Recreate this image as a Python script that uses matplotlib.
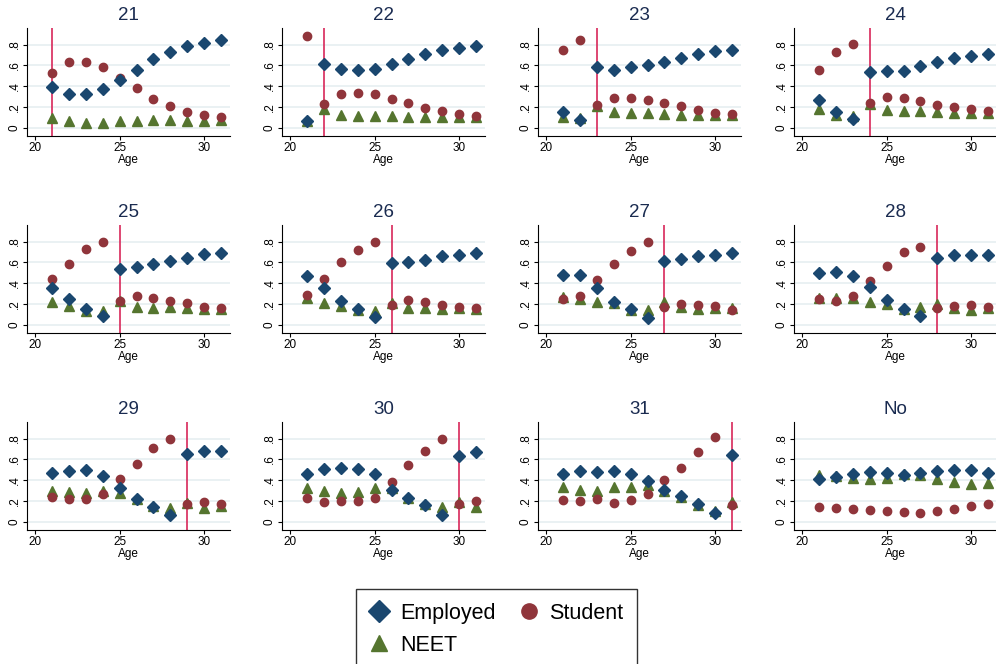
import numpy as np
import matplotlib
matplotlib.use('Agg')
import matplotlib.pyplot as plt
from matplotlib.lines import Line2D

plt.rcParams['font.family'] = ['Liberation Sans', 'DejaVu Sans']

ages = list(range(21, 32))
panels = ['21', '22', '23', '24', '25', '26', '27', '28', '29', '30', '31', 'No']
cutoffs = [21, 22, 23, 24, 25, 26, 27, 28, 29, 30, 31, None]

employed = [
    [.39, .32, .32, .37, .46, .56, .66, .73, .79, .82, .84],
    [.06, .61, .57, .56, .57, .61, .66, .71, .75, .77, .79],
    [.15, .07, .58, .56, .58, .60, .63, .67, .71, .74, .75],
    [.27, .15, .08, .54, .55, .55, .59, .63, .67, .69, .71],
    [.35, .25, .15, .08, .54, .56, .58, .61, .64, .68, .69],
    [.47, .35, .23, .15, .07, .59, .60, .62, .66, .67, .69],
    [.48, .48, .35, .22, .15, .06, .61, .63, .66, .67, .69],
    [.50, .51, .47, .36, .24, .15, .08, .64, .67, .67, .67],
    [.47, .49, .50, .44, .32, .22, .14, .06, .65, .68, .68],
    [.46, .51, .52, .51, .46, .31, .23, .16, .06, .63, .67],
    [.46, .49, .48, .49, .46, .39, .31, .25, .17, .08, .64],
    [.41, .43, .46, .48, .47, .45, .47, .49, .50, .50, .47],
]
student = [
    [.53, .63, .63, .58, .48, .38, .28, .21, .15, .12, .10],
    [.88, .23, .32, .33, .32, .28, .24, .19, .16, .13, .11],
    [.75, .84, .22, .29, .29, .27, .24, .21, .17, .14, .13],
    [.56, .73, .81, .24, .30, .29, .26, .22, .20, .18, .16],
    [.44, .58, .73, .80, .23, .28, .26, .23, .21, .17, .16],
    [.29, .44, .60, .72, .80, .19, .24, .22, .19, .17, .16],
    [.25, .28, .43, .58, .71, .80, .17, .20, .19, .18, .14],
    [.25, .23, .28, .42, .57, .70, .75, .16, .18, .19, .17],
    [.24, .22, .22, .27, .41, .56, .71, .80, .17, .19, .17],
    [.23, .19, .20, .20, .23, .38, .55, .68, .80, .17, .20],
    [.21, .20, .22, .18, .21, .27, .40, .52, .67, .82, .16],
    [.14, .13, .12, .11, .10, .09, .08, .10, .12, .15, .17],
]
neet = [
    [.09, .06, .05, .05, .06, .06, .07, .07, .06, .06, .07],
    [.06, .18, .12, .11, .11, .11, .10, .10, .10, .10, .10],
    [.10, .09, .21, .15, .14, .14, .13, .12, .12, .12, .12],
    [.18, .12, .11, .23, .17, .16, .16, .15, .14, .14, .14],
    [.22, .18, .13, .13, .23, .17, .16, .17, .16, .15, .15],
    [.26, .21, .18, .14, .13, .21, .16, .16, .15, .16, .15],
    [.27, .25, .22, .21, .14, .14, .22, .17, .15, .16, .16],
    [.26, .26, .26, .22, .20, .15, .17, .20, .16, .14, .16],
    [.30, .29, .28, .30, .28, .22, .15, .13, .18, .13, .15],
    [.32, .30, .28, .29, .32, .32, .23, .17, .14, .19, .14],
    [.33, .31, .30, .33, .33, .35, .30, .24, .16, .10, .19],
    [.45, .44, .42, .41, .42, .46, .45, .41, .38, .36, .37],
]

c_emp = '#1a476f'
c_stu = '#90353b'
c_neet = '#55752f'
c_line = '#d8285a'
c_title = '#1a2b50'

W, H = 996, 664
fig = plt.figure(figsize=(W / 100, H / 100), dpi=100)

lefts = [27, 282, 538, 794]
tops = [28, 225, 422]
aw, ah = 203, 108

for i, name in enumerate(panels):
    r, c = divmod(i, 4)
    ax = fig.add_axes([lefts[c] / W, 1 - (tops[r] + ah) / H, aw / W, ah / H])
    ax.set_xlim(19.5, 31.55)
    ax.set_ylim(-0.08, 0.96)
    ax.set_yticks([0, .2, .4, .6, .8])
    ax.set_yticklabels(['0', '.2', '.4', '.6', '.8'], rotation=90, va='center')
    ax.set_xticks([20, 25, 30])
    ax.grid(axis='y', color='#e6eff1', lw=1.2)
    ax.set_axisbelow(True)
    for s in ['top', 'right']:
        ax.spines[s].set_visible(False)
    ax.tick_params(labelsize=8.5, length=3, pad=1.5)
    if cutoffs[i] is not None:
        ax.axvline(cutoffs[i], color=c_line, lw=1.2, zorder=1)
    ax.plot(ages, neet[i], '^', color=c_neet, ms=6.5, ls='none', zorder=3)
    ax.plot(ages, student[i], 'o', color=c_stu, ms=6, ls='none', zorder=3)
    ax.plot(ages, employed[i], 'D', color=c_emp, ms=6.3, ls='none', zorder=4)
    ax.set_xlabel('Age', fontsize=8.5, labelpad=0)
    ax.set_title(name, fontsize=13.5, color=c_title, pad=6)

handles = [
    Line2D([], [], marker='D', color=c_emp, ls='none', ms=11),
    Line2D([], [], marker='^', color=c_neet, ls='none', ms=12),
    Line2D([], [], marker='o', color=c_stu, ls='none', ms=11),
]
leg = fig.legend(handles, ['Employed', 'NEET', 'Student'], ncol=2,
                 loc='upper center', bbox_to_anchor=(0.4985, 1 - 589 / H),
                 fontsize=15.5, frameon=True, fancybox=False, edgecolor='black',
                 handlelength=0.9, handletextpad=0.5, columnspacing=1.1,
                 borderpad=0.65, labelspacing=0.5, borderaxespad=0)
leg.get_frame().set_linewidth(1.0)

fig.savefig('out.png', dpi=100)
